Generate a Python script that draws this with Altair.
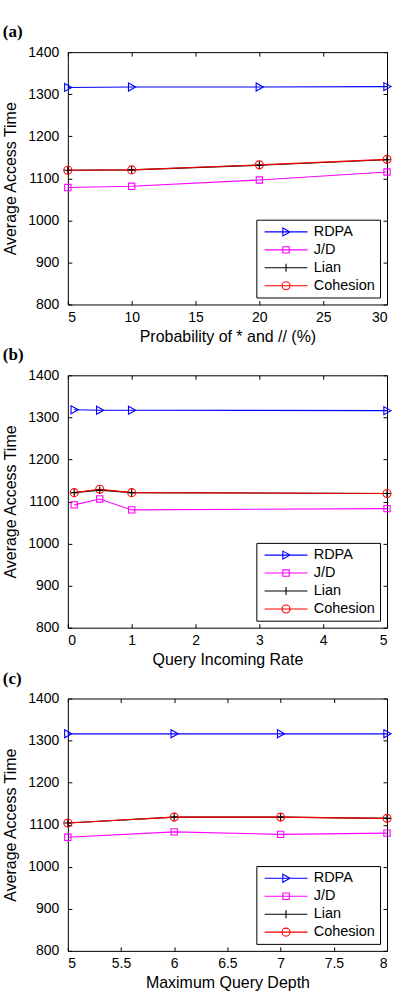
import altair as alt
import pandas as pd

series = ["RDPA", "J/D", "Lian", "Cohesion"]
colors = ["#0000ff", "#ff00ff", "#000000", "#ff0000"]

# Panel (a)
x_a = [5, 10, 20, 30]
rdpa_a = [1316, 1317, 1317, 1318]
jd_a = [1078, 1081, 1096, 1115]
lian_a = [1119, 1120, 1131, 1144]
coh_a = [1119, 1120, 1132, 1145]

# Panel (b)
x_b = [0.1, 0.5, 1, 5]
rdpa_b = [1318, 1317, 1317, 1316]
jd_b = [1092, 1106, 1080, 1083]
lian_b = [1121, 1127, 1121, 1119]
coh_b = [1121, 1129, 1121, 1119]

# Panel (c)
x_c = [5, 6, 7, 8]
rdpa_c = [1316, 1316, 1316, 1316]
jd_c = [1070, 1083, 1077, 1080]
lian_c = [1104, 1118, 1118, 1115]
coh_c = [1104, 1118, 1118, 1115]

y_ticks = [800, 900, 1000, 1100, 1200, 1300, 1400]

marker_shapes = [
    "M-0.8,-1L1,0L-0.8,1Z",
    "M-1,-1H1V1H-1Z",
    "M-1,0H1M0,-1V1",
    "circle",
]
marker_sizes = [64, 40, 64, 64]

legend_shapes = [
    "M-1,0H9.75M3.575,-1L5.375,0L3.575,1Z",
    "M-1,0H9.75M3.575,-0.8H5.175V0.8H3.575Z",
    "M-1,0H9.75M4.375,-1V1",
    "M-1,0H9.75M5.375,0A1,1,0,1,1,3.375,0A1,1,0,1,1,5.375,0",
]

FONT = "Liberation Sans"


def panel(xs, ys_list, xtitle, domain, xvals, label):
    rows = []
    for s, ys in zip(series, ys_list):
        for x, y in zip(xs, ys):
            rows.append({"x": x, "y": y, "series": s})
    df = pd.DataFrame(rows)
    base = alt.Chart(df)
    xsc = alt.Scale(domain=domain, nice=False, zero=False)
    ysc = alt.Scale(domain=[800, 1400], nice=False, zero=False)

    main_x = alt.Axis(values=xvals, title=xtitle, format="~g", offset=-4, tickSize=4,
                      domain=False, grid=False, labelPadding=6, titlePadding=4)
    main_y = alt.Axis(values=y_ticks, title="Average Access Time", format="d", offset=-4,
                      tickSize=4, domain=False, grid=False, labelPadding=9, titlePadding=9)
    top_x = alt.Axis(orient="top", values=xvals, labels=False, domain=False,
                     tickSize=4, offset=-4, title=None, grid=False)
    right_y = alt.Axis(orient="right", values=y_ticks, labels=False, domain=False,
                       tickSize=4, offset=-4, title=None, grid=False)

    layers = []
    for i, s in enumerate(series):
        ln = base.transform_filter(alt.datum.series == s).mark_line(
            strokeWidth=1.1, color=colors[i], clip=False
        ).encode(
            x=alt.X("x:Q", scale=xsc, axis=main_x if i == 0 else None),
            y=alt.Y("y:Q", scale=ysc, axis=main_y if i == 0 else None),
        )
        layers.append(ln)
    for i, s in enumerate(series):
        pts = base.transform_filter(alt.datum.series == s).mark_point(
            shape=marker_shapes[i], size=marker_sizes[i], filled=False,
            strokeWidth=1.1, color=colors[i], opacity=1, clip=False
        ).encode(
            x=alt.X("x:Q", scale=xsc, axis=top_x if i == 0 else None),
            y=alt.Y("y:Q", scale=ysc, axis=right_y if i == 0 else None),
        )
        layers.append(pts)

    leg = alt.Legend(
        title=None, orient="bottom-right", offset=7, strokeColor="black",
        fillColor="white", padding=5, symbolSize=64, symbolStrokeWidth=1.1,
        symbolOpacity=1, labelFont=FONT, labelFontSize=14.5, labelColor="black",
        rowPadding=3, labelOffset=38,
    )
    # legend-only layer: its points are pushed outside the y domain and clipped away
    legend_layer = base.transform_calculate(yh="datum.y - 100000").mark_point(
        size=64, filled=False, strokeWidth=1.1, opacity=1, clip=True).encode(
        x=alt.X("x:Q", scale=xsc, axis=None),
        y=alt.Y("yh:Q", scale=ysc, axis=None),
        shape=alt.Shape("series:N", scale=alt.Scale(domain=series, range=legend_shapes), legend=leg),
        stroke=alt.Stroke("series:N", scale=alt.Scale(domain=series, range=colors), legend=leg),
    )
    layers.append(legend_layer)

    return alt.layer(*layers).resolve_axis(x="independent", y="independent").properties(
        width=320, height=253,
        title=alt.TitleParams(label, anchor="start", frame="bounds", font="Liberation Serif",
                              fontWeight="bold", fontSize=17, color="black", offset=4),
    )


pa = panel(x_a, [rdpa_a, jd_a, lian_a, coh_a], "Probability of * and // (%)", [5, 30],
           [5, 10, 15, 20, 25, 30], "(a)")
pb = panel(x_b, [rdpa_b, jd_b, lian_b, coh_b], "Query Incoming Rate", [0, 5],
           [0, 1, 2, 3, 4, 5], "(b)")
pc = panel(x_c, [rdpa_c, jd_c, lian_c, coh_c], "Maximum Query Depth", [5, 8],
           [5, 5.5, 6, 6.5, 7, 7.5, 8], "(c)")

chart = alt.vconcat(pa, pb, pc, spacing=0).resolve_scale(
    shape="independent", stroke="independent",
    x="independent", y="independent",
).resolve_legend(shape="independent", stroke="independent").properties(
    padding={"top": 21, "left": 2, "right": 5, "bottom": 2}, background="white"
).configure_view(stroke="black", strokeWidth=1).configure_axis(
    labelFont=FONT, labelFontSize=14, labelColor="black", tickColor="black",
    titleFont=FONT, titleFontSize=16, titleFontWeight="normal", titleColor="black",
)

chart.save("out.html", embed_options={"renderer": "svg", "actions": False})
